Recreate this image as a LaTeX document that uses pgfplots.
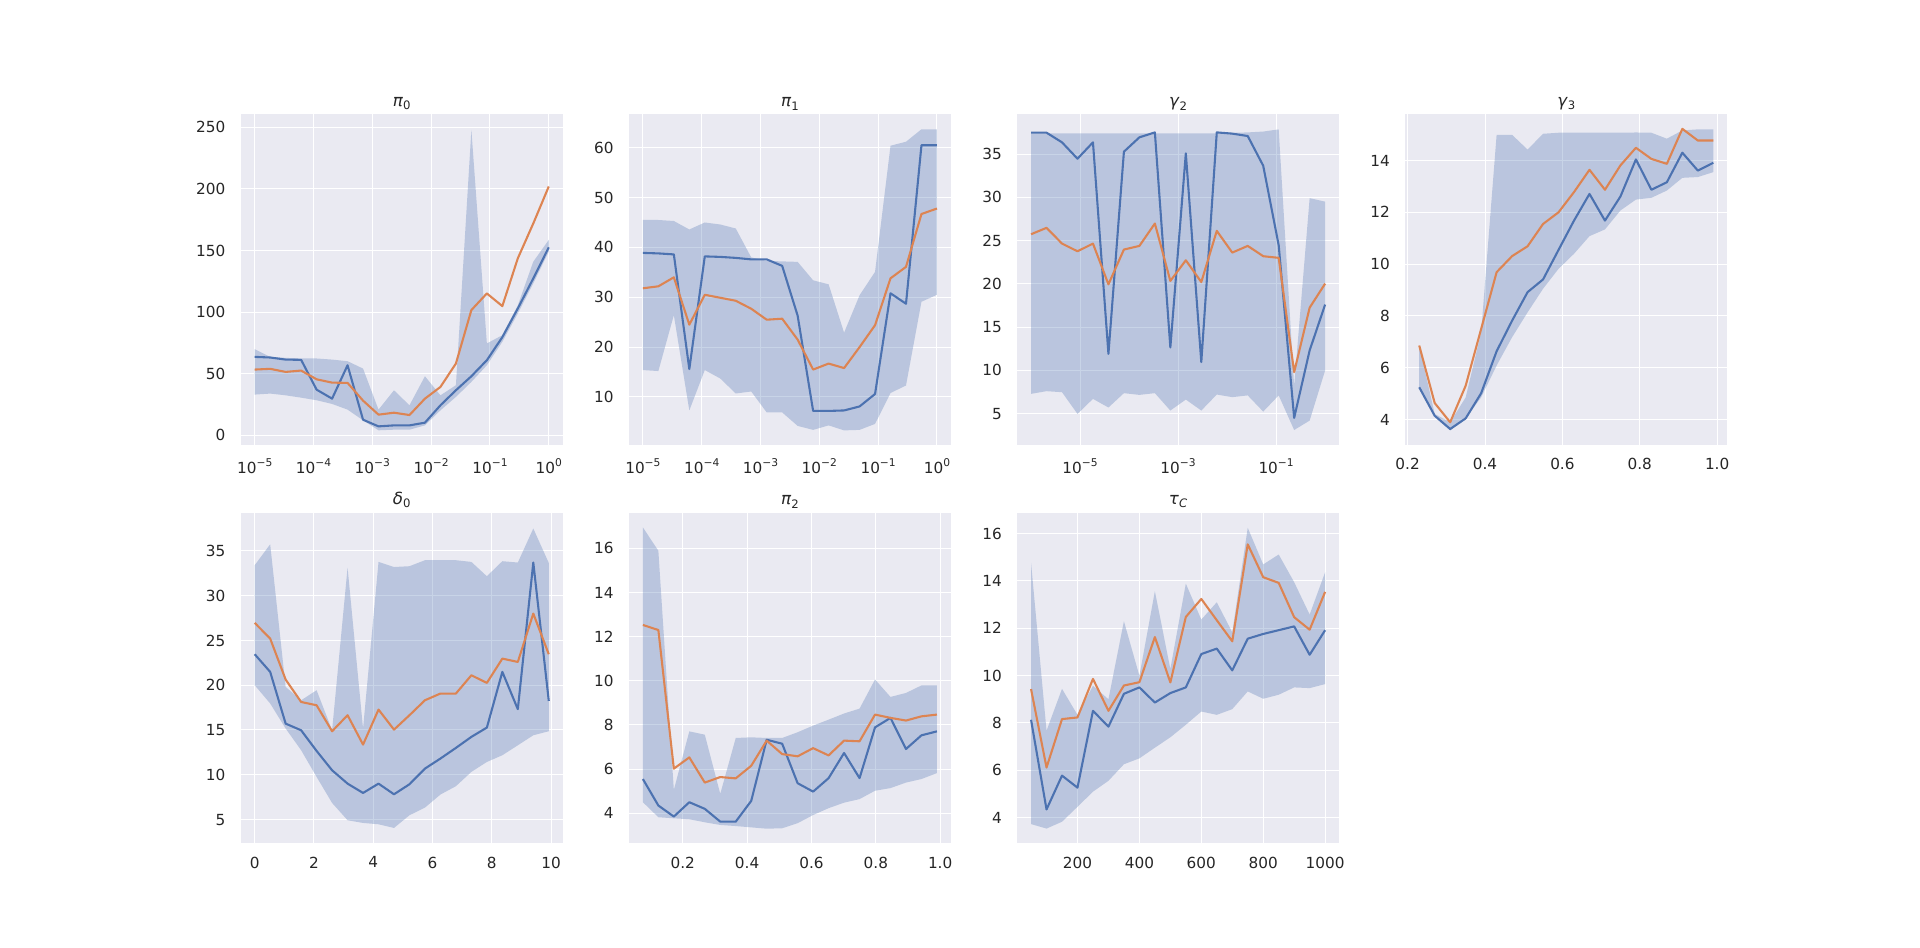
\documentclass[border=0pt]{standalone}
\usepackage{fontspec}
\setmainfont{DejaVu Sans}
\usepackage{pgfplots}
\pgfplotsset{compat=1.18}
\usepackage{pgfplotstable}
\definecolor{bgc}{HTML}{EAEAF2}
\definecolor{tc}{HTML}{262626}
\definecolor{sbblue}{HTML}{4C72B0}
\definecolor{sborange}{HTML}{DD8452}
\newcommand\tp[1]{10\raisebox{0.45em}{\fontsize{7.7}{8}\selectfont #1}}
\newcommand\sub[1]{\raisebox{-0.22em}{\fontsize{8.4}{9}\selectfont #1}}

% x columns of the first three tables hold log10 of the parameter value
\pgfplotstableread{
x b o
-5 63.7 53.4
-4.7368 63.2 54.0
-4.4737 61.5 51.5
-4.2105 61.3 52.6
-3.9474 37.1 45.5
-3.6842 29.8 42.8
-3.4211 56.9 42.6
-3.1579 12.7 28.2
-2.8947 7.3 16.8
-2.6316 8.1 18.4
-2.3684 8.1 16.5
-2.1053 10.3 29.8
-1.8421 24.4 39.3
-1.5789 36.6 58.3
-1.3158 48.0 101.7
-1.0526 61.0 115.2
-0.7895 79.7 104.9
-0.5263 103 143.7
-0.2632 127.4 172
0 152.6 202
}\tA

\pgfplotstableread{
x b o
-5 38.9 31.8
-4.7368 38.8 32.2
-4.4737 38.6 34.0
-4.2105 15.6 24.5
-3.9474 38.2 30.5
-3.6842 38.1 29.9
-3.4211 37.9 29.3
-3.1579 37.6 27.7
-2.8947 37.6 25.5
-2.6316 36.3 25.7
-2.3684 26.3 21.5
-2.1053 7.2 15.5
-1.8421 7.2 16.7
-1.5789 7.3 15.8
-1.3158 8.1 20.0
-1.0526 10.6 24.4
-0.7895 30.8 33.8
-0.5263 28.7 36.1
-0.2632 60.5 46.7
0 60.5 47.8
}\tB

\pgfplotstableread{
x b o
-6 37.47 25.73
-5.6842 37.47 26.47
-5.3684 36.35 24.65
-5.0526 34.46 23.76
-4.7368 36.35 24.65
-4.4211 11.9 19.94
-4.1053 35.27 23.96
-3.7895 36.93 24.38
-3.4737 37.5 26.97
-3.1579 12.64 20.33
-2.8421 35.08 22.72
-2.5263 10.95 20.2
-2.2105 37.5 26.12
-1.8947 37.36 23.61
-1.5789 37.08 24.38
-1.2632 33.65 23.19
-0.9474 24.46 23.0
-0.6316 4.5 9.79
-0.3158 12.3 17.24
0 17.6 20.02
}\tC

\pgfplotstableread{
x b o
0.23 5.25 6.86
0.27 4.15 4.64
0.31 3.64 3.9
0.35 4.05 5.31
0.39 5.02 7.5
0.43 6.64 9.69
0.47 7.82 10.31
0.51 8.92 10.69
0.55 9.41 11.55
0.59 10.55 12.0
0.63 11.68 12.78
0.67 12.71 13.64
0.71 11.68 12.87
0.75 12.61 13.81
0.79 14.04 14.49
0.83 12.87 14.06
0.87 13.16 13.87
0.91 14.3 15.22
0.95 13.61 14.77
0.99 13.91 14.77
}\tD

\pgfplotstableread{
x b o
0 23.46 26.96
0.522 21.49 25.21
1.044 15.71 20.63
1.566 14.97 18.13
2.088 12.66 17.76
2.611 10.5 14.86
3.133 9.01 16.65
3.655 7.97 13.37
4.177 9.01 17.28
4.699 7.82 15.04
5.221 8.94 16.65
5.743 10.69 18.32
6.265 11.81 19.07
6.787 13.0 19.07
7.309 14.23 21.11
7.832 15.27 20.26
8.354 21.49 22.97
8.876 17.32 22.6
9.398 33.7 28.0
9.920 18.25 23.46
}\tE

\pgfplotstableread{
x b o
0.0760 5.55 12.53
0.1241 4.35 12.3
0.1722 3.85 6.02
0.2203 4.5 6.53
0.2684 4.2 5.39
0.3165 3.62 5.64
0.3646 3.62 5.58
0.4127 4.56 6.15
0.4608 7.33 7.29
0.5089 7.15 6.68
0.5570 5.36 6.58
0.6051 4.98 6.95
0.6532 5.59 6.62
0.7013 6.73 7.29
0.7494 5.59 7.26
0.7975 7.89 8.47
0.8456 8.32 8.32
0.8937 6.91 8.2
0.9418 7.53 8.39
0.9900 7.71 8.47
}\tF

\pgfplotstableread{
x b o
50 8.13 9.43
100 4.34 6.11
150 5.77 8.16
200 5.26 8.23
250 8.51 9.86
300 7.84 8.51
350 9.23 9.58
400 9.5 9.72
450 8.86 11.63
500 9.26 9.71
550 9.5 12.48
600 10.91 13.24
650 11.14 12.34
700 10.22 11.45
750 11.56 15.55
800 11.76 14.16
850 11.92 13.92
900 12.08 12.47
950 10.88 11.94
1000 11.92 13.54
}\tG

\pgfplotsset{
 sb/.style={scale only axis, width=232.9pt, height=238.88pt, anchor=south west,
   axis background/.style={fill=bgc},
   grid=major, major grid style={white, line width=0.72pt},
   axis line style={white, line width=0.9pt},
   major tick length=0pt, minor tick length=0pt, tick style={draw=none},
   tick label style={font=\fontsize{11}{13}\selectfont, text=tc},
   xticklabel style={yshift=-5.8pt}, yticklabel style={xshift=-7pt},
   title style={font=\fontsize{12}{14}\selectfont, text=tc, at={(0.5,1)}, anchor=south, yshift=-6.8pt},
   /pgf/number format/assume math mode=true,
   /pgf/number format/1000 sep={},
 },
 dec1/.style={xticklabel style={/pgf/number format/.cd, fixed, fixed zerofill, precision=1}},
 bandst/.style={fill=sbblue, fill opacity=0.3, draw=none},
 lb/.style={sbblue, line width=1.5pt, line join=round},
 lo/.style={sborange, line width=1.5pt, line join=round},
}

\begin{document}
\begin{tikzpicture}
\path[use as bounding box] (0,0) rectangle (1382.4pt,682.56pt);

\begin{axis}[sb, at={(172.8pt,361.73pt)},
  xmin=-5.25, xmax=0.25, ymin=-8.3, ymax=261,
  xtick={-5,-4,-3,-2,-1,0},
  xticklabels={\tp{−5},\tp{−4},\tp{−3},\tp{−2},\tp{−1},\tp{0}},
  ytick={0,50,100,150,200,250},
  title={\textit{π}\sub{0}}]
\addplot[bandst] coordinates {(-5,70.0)(-4.7368,63.7)(-4.4737,62.9)(-4.2105,62.4)(-3.9474,62.4)(-3.6842,61.5)(-3.4211,60.2)(-3.1579,54.2)(-2.8947,20.9)(-2.6316,36.6)(-2.3684,24.4)(-2.1053,48.0)(-1.8421,32.5)(-1.5789,40.7)(-1.3158,248)(-1.0526,74.6)(-0.7895,81.3)(-0.5263,105.5)(-0.2632,141)(0,158.6)
 (0,149.1)(-0.2632,123.4)(-0.5263,98.9)(-0.7895,75.9)(-1.0526,56.9)(-1.3158,43.4)(-1.5789,31.2)(-1.8421,20.3)(-2.1053,8.1)(-2.3684,4.6)(-2.6316,4.6)(-2.8947,4.1)(-3.1579,12.2)(-3.4211,20.9)(-3.6842,25.5)(-3.9474,28.5)(-4.2105,30.6)(-4.4737,32.5)(-4.7368,33.9)(-5,33.1)} -- cycle;
\addplot[lb] table[x=x,y=b]{\tA};
\addplot[lo] table[x=x,y=o]{\tA};
\end{axis}

\begin{axis}[sb, at={(452.29pt,361.73pt)},
  xmin=-5.25, xmax=0.25, ymin=0.25, ymax=66.8,
  xtick={-5,-4,-3,-2,-1,0},
  xticklabels={\tp{−5},\tp{−4},\tp{−3},\tp{−2},\tp{−1},\tp{0}},
  ytick={10,20,30,40,50,60},
  title={\textit{π}\sub{1}}]
\addplot[bandst] coordinates {(-5,45.5)(-4.7368,45.5)(-4.4737,45.3)(-4.2105,43.6)(-3.9474,45.0)(-3.6842,44.6)(-3.4211,43.8)(-3.1579,38.0)(-2.8947,37.3)(-2.6316,37.2)(-2.3684,37.1)(-2.1053,33.4)(-1.8421,32.6)(-1.5789,22.9)(-1.3158,30.4)(-1.0526,35.1)(-0.7895,60.4)(-0.5263,61.2)(-0.2632,63.7)(0,63.7)
 (0,30.5)(-0.2632,29.1)(-0.5263,12.3)(-0.7895,10.8)(-1.0526,4.6)(-1.3158,3.4)(-1.5789,3.3)(-1.8421,4.3)(-2.1053,3.4)(-2.3684,4.2)(-2.6316,6.9)(-2.8947,6.9)(-3.1579,11.1)(-3.4211,10.7)(-3.6842,13.7)(-3.9474,15.4)(-4.2105,7.3)(-4.4737,26.4)(-4.7368,15.2)(-5,15.4)} -- cycle;
\addplot[lb] table[x=x,y=b]{\tB};
\addplot[lo] table[x=x,y=o]{\tB};
\end{axis}

\begin{axis}[sb, at={(731.77pt,361.73pt)},
  xtick={-5,-3,-1}, xticklabels={\tp{−5},\tp{−3},\tp{−1}},
  xmin=-6.3, xmax=0.3, ymin=1.3, ymax=39.65,
  ytick={5,10,15,20,25,30,35},
  title={\textit{γ}\sub{2}}]
\addplot[bandst] coordinates {(-6,37.4)(-5.6842,37.4)(-5.3684,37.4)(-5.0526,37.4)(-4.7368,37.4)(-4.4211,37.4)(-4.1053,37.4)(-3.7895,37.4)(-3.4737,37.4)(-3.1579,37.4)(-2.8421,37.4)(-2.5263,37.4)(-2.2105,37.4)(-1.8947,37.45)(-1.5789,37.5)(-1.2632,37.6)(-0.9474,37.85)(-0.6316,8.2)(-0.3158,29.9)(0,29.5)
 (0,9.98)(-0.3158,4.19)(-0.6316,3.1)(-0.9474,7.1)(-1.2632,5.23)(-1.5789,7.1)(-1.8947,6.9)(-2.2105,7.2)(-2.5263,5.35)(-2.8421,6.62)(-3.1579,5.35)(-3.4737,7.36)(-3.7895,7.16)(-4.1053,7.36)(-4.4211,5.7)(-4.7368,6.7)(-5.0526,4.96)(-5.3684,7.47)(-5.6842,7.59)(-6,7.28)} -- cycle;
\addplot[lb] table[x=x,y=b]{\tC};
\addplot[lo] table[x=x,y=o]{\tC};
\end{axis}

\begin{axis}[sb, at={(1011.26pt,361.73pt)}, dec1,
  xmin=0.192, xmax=1.028, ymin=3.0, ymax=15.8,
  xtick={0.2,0.4,0.6,0.8,1.0}, ytick={4,6,8,10,12,14},
  title={\textit{γ}\sub{3}}]
\addplot[bandst] coordinates {(0.23,6.86)(0.27,4.22)(0.31,3.9)(0.35,4.86)(0.39,7.37)(0.43,14.99)(0.47,14.99)(0.51,14.42)(0.55,15.03)(0.59,15.07)(0.63,15.07)(0.67,15.07)(0.71,15.07)(0.75,15.07)(0.79,15.08)(0.83,15.07)(0.87,14.84)(0.91,15.16)(0.95,15.2)(0.99,15.2)
 (0.99,13.55)(0.95,13.36)(0.91,13.33)(0.87,12.84)(0.83,12.56)(0.79,12.49)(0.75,12.07)(0.71,11.34)(0.67,11.08)(0.63,10.4)(0.59,9.82)(0.55,9.05)(0.51,8.14)(0.47,7.18)(0.43,6.09)(0.39,4.86)(0.35,4.05)(0.31,3.58)(0.27,4.13)(0.23,5.25)} -- cycle;
\addplot[lb] table[x=x,y=b]{\tD};
\addplot[lo] table[x=x,y=o]{\tD};
\end{axis}

\begin{axis}[sb, at={(172.8pt,75.08pt)},
  xmin=-0.496, xmax=10.416, ymin=2.3, ymax=39.35,
  xtick={0,2,4,6,8,10}, ytick={5,10,15,20,25,30,35},
  title={\textit{δ}\sub{0}}]
\addplot[bandst] coordinates {(0,33.4)(0.522,35.74)(1.044,19.81)(1.566,18.32)(2.088,19.44)(2.611,14.97)(3.133,33.14)(3.655,15.16)(4.177,33.77)(4.699,33.2)(5.221,33.29)(5.743,33.96)(6.265,33.96)(6.787,33.96)(7.309,33.77)(7.832,32.17)(8.354,33.85)(8.876,33.7)(9.398,37.5)(9.920,33.66)
 (9.920,14.86)(9.398,14.41)(8.876,13.29)(8.354,12.18)(7.832,11.43)(7.309,10.32)(6.787,8.72)(6.265,7.79)(5.743,6.33)(5.221,5.48)(4.699,4.06)(4.177,4.47)(3.655,4.62)(3.133,4.92)(2.611,6.85)(2.088,9.76)(1.566,12.74)(1.044,15.16)(0.522,17.96)(0,20.0)} -- cycle;
\addplot[lb] table[x=x,y=b]{\tE};
\addplot[lo] table[x=x,y=o]{\tE};
\end{axis}

\begin{axis}[sb, at={(452.29pt,75.08pt)}, dec1,
  xmin=0.0303, xmax=1.0357, ymin=2.62, ymax=17.65,
  xtick={0.2,0.4,0.6,0.8,1.0}, ytick={4,6,8,10,12,14,16},
  title={\textit{π}\sub{2}}]
\addplot[bandst] coordinates {(0.0760,16.95)(0.1241,15.89)(0.1722,5.06)(0.2203,7.71)(0.2684,7.56)(0.3165,4.88)(0.3646,7.41)(0.4127,7.44)(0.4608,7.41)(0.5089,7.41)(0.5570,7.67)(0.6051,7.97)(0.6532,8.24)(0.7013,8.52)(0.7494,8.74)(0.7975,10.06)(0.8456,9.27)(0.8937,9.45)(0.9418,9.79)(0.9900,9.79)
 (0.9900,5.82)(0.9418,5.55)(0.8937,5.39)(0.8456,5.14)(0.7975,5.02)(0.7494,4.64)(0.7013,4.48)(0.6532,4.23)(0.6051,3.92)(0.5570,3.55)(0.5089,3.32)(0.4608,3.30)(0.4127,3.36)(0.3646,3.42)(0.3165,3.47)(0.2684,3.59)(0.2203,3.73)(0.1722,3.77)(0.1241,3.82)(0.0760,4.5)} -- cycle;
\addplot[lb] table[x=x,y=b]{\tF};
\addplot[lo] table[x=x,y=o]{\tF};
\end{axis}

\begin{axis}[sb, at={(731.77pt,75.08pt)},
  xmin=2.5, xmax=1047.5, ymin=2.89, ymax=16.92,
  xtick={200,400,600,800,1000}, ytick={4,6,8,10,12,14,16},
  title={\textit{τ}\sub{\textit{C}}}]
\addplot[bandst] coordinates {(50,14.77)(100,7.67)(150,9.44)(200,8.34)(250,9.57)(300,9.0)(350,12.3)(400,9.99)(450,13.57)(500,10.28)(550,13.89)(600,12.37)(650,13.1)(700,11.83)(750,16.25)(800,14.7)(850,15.12)(900,13.95)(950,12.58)(1000,14.37)
 (1000,9.64)(950,9.47)(900,9.5)(850,9.19)(800,9.02)(750,9.33)(700,8.58)(650,8.34)(600,8.48)(550,7.92)(500,7.39)(450,6.95)(400,6.5)(350,6.25)(300,5.55)(250,5.09)(200,4.45)(150,3.82)(100,3.53)(50,3.72)} -- cycle;
\addplot[lb] table[x=x,y=b]{\tG};
\addplot[lo] table[x=x,y=o]{\tG};
\end{axis}

\end{tikzpicture}
\end{document}
